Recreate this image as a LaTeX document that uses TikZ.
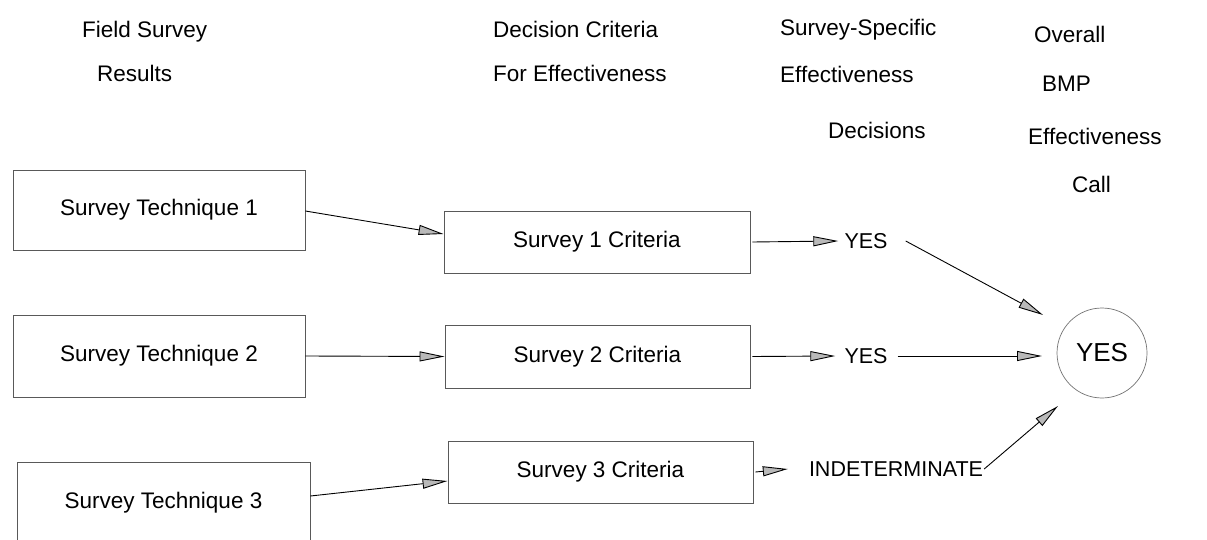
\documentclass[tikz,border=0pt]{standalone}
\usepackage{fontspec}
\setmainfont{Liberation Sans}
\usetikzlibrary{arrows.meta,calc}
\begin{document}
\begin{tikzpicture}[x=1pt,y=-1pt,
  box/.style={draw=black!65, line width=0.9pt, inner sep=0pt, font=\fontsize{22.5}{27}\selectfont},
  head/.style={anchor=base west, inner sep=0pt, font=\fontsize{22.5}{27}\selectfont},
  lbl/.style={inner sep=6pt, font=\fontsize{21.5}{26}\selectfont},
  arr/.style={draw=black, line width=0.9pt, -{Triangle[length=25pt,width=10pt,fill=gray!55]}}
]
\useasboundingbox (0,0) rectangle (1207,540);
% headings
\node[head] (h1a) at (82,38) {Field Survey};
\node[head] (h1b) at (97,82) {Results};
\node[head] (h2a) at (493,38) {Decision Criteria};
\node[head] (h2b) at (493,82) {For Effectiveness};
\node[head] (h3a) at (780,36) {Survey-Specific};
\node[head] (h3b) at (780,83) {Effectiveness};
\node[head] (h3c) at (828,139) {Decisions};
\node[head] (h4a) at (1034,43) {Overall};
\node[head] (h4b) at (1042,92) {BMP};
\node[head] (h4c) at (1028,145) {Effectiveness};
\node[head] (h4d) at (1072,193) {Call};
% technique boxes
\node[box, minimum width=292pt, minimum height=80pt] (t1) at (159,210) {Survey Technique 1};
\node[box, minimum width=292pt, minimum height=82pt] (t2) at (159,356) {Survey Technique 2};
\node[box, minimum width=293pt, minimum height=82pt] (t3) at (163.5,503) {Survey Technique 3};
% criteria boxes
\node[box, minimum width=306pt, minimum height=62pt] (c1) at (597,242) {Survey 1 Criteria};
\node[box, minimum width=305pt, minimum height=63pt] (c2) at (597.5,356.5) {Survey 2 Criteria};
\node[box, minimum width=305pt, minimum height=62pt] (c3) at (600.5,472) {Survey 3 Criteria};
% decisions
\node[lbl] (y1) at (866,241) {YES};
\node[lbl] (y2) at (866,356) {YES};
\node[lbl, inner sep=1pt] (ind) at (896,469) {INDETERMINATE};
% overall
\node[draw=black!55, line width=0.7pt, circle, minimum size=90pt, inner sep=0pt,
      font=\fontsize{26}{30}\selectfont] (yc) at (1102,353) {YES};
% connectors
\draw[arr] ([yshift=-1pt]t1.east) -- ([yshift=8pt]c1.west);
\draw[arr] (t2.east) -- (c2.west);
\draw[arr] ([yshift=7pt]t3.east) -- ([yshift=-9pt]c3.west);
\draw[arr] ([xshift=2pt]c1.east) -- (y1.west);
\draw[arr] ([xshift=2pt]c2.east) -- ([xshift=-3pt]y2.west);
\draw[arr] ([xshift=2pt]c3.east) -- ([xshift=-20pt]ind.west);
\draw[arr] ($(y1.east)+(12,0)$) -- ($(yc.center)+(-59,-38)$);
\draw[arr] ($(y2.east)+(4,0)$) -- ($(yc.center)+(-60,3)$);
\draw[arr] (ind.east) -- ($(yc.center)+(-44,53)$);
\end{tikzpicture}
\end{document}
